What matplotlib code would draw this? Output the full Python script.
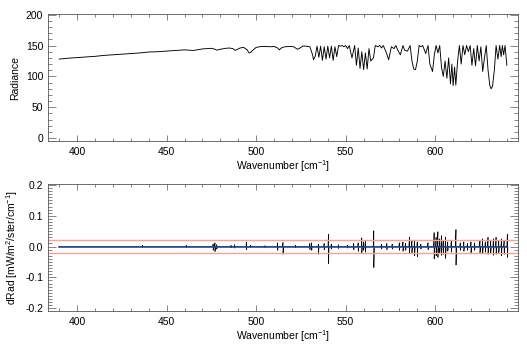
import numpy as np
import matplotlib
matplotlib.use("Agg")
import matplotlib.pyplot as plt
from matplotlib.ticker import MultipleLocator, AutoMinorLocator

plt.rcParams['font.family'] = ['Liberation Sans', 'DejaVu Sans']
plt.rcParams['mathtext.default'] = 'regular'
plt.rcParams['font.size'] = 7.5

# Espectro de radiancia
wn_rad = [390, 395, 400, 405, 410, 415, 420, 425, 430, 435, 440, 445, 450, 455, 460,
          463, 465, 468, 470, 473, 475, 477, 478, 480, 483, 485, 487, 488, 489, 491,
          493, 495, 496, 497, 498, 500, 503, 505, 508, 510, 512, 513, 514, 516, 519,
          521, 523, 524.5, 526, 528,
          530, 531.5, 532, 533, 534, 535, 536, 537, 538, 539, 540, 541, 542, 543, 544,
          545, 546, 547, 548, 549, 550, 551, 552, 553.5, 555, 556, 557, 558, 559, 560,
          561, 562, 563, 564, 565.5, 566.5, 568, 569, 570, 571, 572.5, 574, 575.5, 577,
          578, 579, 580.5, 582, 583, 584.5, 586, 587, 588, 589, 590, 591, 592, 593,
          594.7, 596, 597, 598.5, 599.5, 600.5, 601.5, 602.5, 603.5, 604.5, 605.5, 606.5,
          607.5, 608.5, 609.3, 610, 610.8, 611.5, 612.5, 613.5, 614.5, 615.5, 616.5,
          617.5, 618.5, 619.5, 620.5, 621.5, 622.5, 623.5, 624.5, 625.5, 626.5, 627.5,
          628.5, 629.5, 630.5, 631.2, 632, 633, 634, 635, 636, 636.8, 637.5, 638.2, 639,
          640]
radiance = [128, 129.5, 130.5, 131.5, 132.5, 134, 135, 136, 137, 138, 139.5, 140, 141, 142, 143,
            142.5, 142, 143.5, 144.5, 145, 145.5, 144, 142.5, 144, 145.5, 146, 145, 142.5, 143, 146,
            147, 143, 138, 139, 142, 147, 148.5, 148.5, 148, 148.5, 146, 143, 146, 148, 148.5,
            148, 144, 146, 149, 149,
            148, 135, 127, 133, 149, 131, 149, 126, 148, 128, 149, 130, 149, 126, 148,
            132, 150, 149, 150, 148, 150, 145, 150, 130, 150, 118, 146, 113, 140, 111,
            138, 112, 145, 125, 130, 150, 148, 150, 146, 150, 140, 127, 148, 145,
            150, 143, 135, 150, 142, 141, 150, 125, 112, 111, 125, 150, 148, 150,
            137, 150, 120, 108, 135, 150, 138, 150, 115, 100, 125, 97,
            130, 88, 120, 85, 115, 86, 125, 150, 120, 150, 135,
            150, 140, 150, 118, 145, 117, 150, 125, 148, 108, 130,
            150, 110, 85, 80, 84, 110, 150, 128, 150, 132, 150, 135, 150,
            118]

# Diferencias de radiancia: picos (posición, máximo, mínimo)
spike_wn = [436.5, 461, 476, 477, 478, 486, 488, 494.6, 497, 505, 512, 515, 522,
            530, 531, 534.8, 538, 540.4, 542, 546, 551, 554.5, 557, 559, 560, 561,
            565.7, 570, 573, 576, 580, 582, 583.5, 585.6, 587, 588.5, 590, 592, 596,
            599.4, 600.5, 601.5, 602.5, 603.5, 604.5, 605.8, 607, 609, 611.6, 614,
            616, 618, 620, 622, 625, 626.5, 628, 629.5, 631, 632.5, 634, 635.5, 637,
            638.5, 640.3]
spike_hi = [0.004, 0.004, 0.008, 0.012, 0.006, 0.004, 0.006, 0.015, 0.004, 0.003, 0.012, 0.013, 0.004,
            0.010, 0.012, 0.008, 0.010, 0.040, 0.008, 0.006, 0.005, 0.010, 0.012, 0.028, 0.015, 0.020,
            0.051, 0.008, 0.010, 0.008, 0.012, 0.015, 0.010, 0.030, 0.018, 0.020, 0.015, 0.008, 0.012,
            0.045, 0.030, 0.048, 0.025, 0.035, 0.020, 0.030, 0.015, 0.020, 0.055, 0.012,
            0.015, 0.010, 0.015, 0.012, 0.020, 0.025, 0.015, 0.030, 0.020, 0.025, 0.030, 0.020, 0.025,
            0.020, 0.040]
spike_lo = [-0.003, -0.004, -0.012, -0.016, -0.008, -0.004, -0.005, -0.010, -0.003, -0.003, -0.012, -0.025, -0.004,
            -0.010, -0.012, -0.025, -0.010, -0.055, -0.008, -0.006, -0.005, -0.010, -0.015, -0.020, -0.012, -0.018,
            -0.068, -0.008, -0.010, -0.008, -0.012, -0.015, -0.012, -0.020, -0.020, -0.030, -0.033, -0.008, -0.010,
            -0.040, -0.030, -0.035, -0.020, -0.028, -0.025, -0.038, -0.015, -0.018, -0.060, -0.012,
            -0.015, -0.012, -0.020, -0.012, -0.020, -0.022, -0.018, -0.025, -0.020, -0.028, -0.025, -0.020, -0.030,
            -0.025, -0.035]

# Segunda diferencia (azul) y umbrales
blue_wn = [390, 640]
blue_val = [0.0, 0.0]
umbral = 0.02

# construir la traza de diferencias a partir de los picos
dx, dy = [390.0], [0.0]
for w, hi, lo in zip(spike_wn, spike_hi, spike_lo):
    dx += [w - 0.3, w - 0.02, w + 0.02, w + 0.3]
    dy += [0.0, hi, lo, 0.0]
dx.append(640.0)
dy.append(0.0)

fig = plt.figure(figsize=(5.27, 3.46), dpi=100)
ax1 = fig.add_axes([0.0911, 0.5925, 0.8919, 0.367])
ax2 = fig.add_axes([0.0911, 0.1012, 0.8919, 0.3661])

ax1.plot(wn_rad, radiance, color='black', lw=0.65)
ax1.set_ylim(-4.5, 201)
ax1.set_ylabel('Radiance')
ax1.yaxis.set_major_locator(MultipleLocator(50))
ax1.yaxis.set_minor_locator(MultipleLocator(10))

ax2.plot(dx, dy, color='black', lw=0.5)
ax2.plot(blue_wn, blue_val, color='#2c4a9c', lw=1.2)
ax2.axhline(umbral, color='#f4a596', lw=1.0)
ax2.axhline(-umbral, color='#f4a596', lw=1.0)
ax2.set_ylim(-0.209, 0.202)
ax2.set_ylabel('dRad [mW/m$^2$/ster/cm$^{-1}$]')
ax2.yaxis.set_major_locator(MultipleLocator(0.1))
ax2.yaxis.set_minor_locator(MultipleLocator(0.01))
ax2.yaxis.set_major_formatter(plt.FormatStrFormatter('%.1f'))

for ax in (ax1, ax2):
    ax.set_xlim(383.75, 646.25)
    ax.xaxis.set_major_locator(MultipleLocator(50))
    ax.xaxis.set_minor_locator(MultipleLocator(10))
    ax.set_xlabel('Wavenumber [cm$^{-1}$]', labelpad=1)
    ax.tick_params(which='both', direction='in', top=True, right=True, width=0.5, color='#555555')
    ax.tick_params(axis='x', which='major', length=4, pad=4)
    ax.tick_params(axis='x', which='minor', length=2)
    ax.tick_params(axis='y', which='major', length=6)
    ax.tick_params(axis='y', which='minor', length=3)
    for s in ax.spines.values():
        s.set_linewidth(0.6)
        s.set_color('#555555')

fig.savefig('out.png', dpi=100)
